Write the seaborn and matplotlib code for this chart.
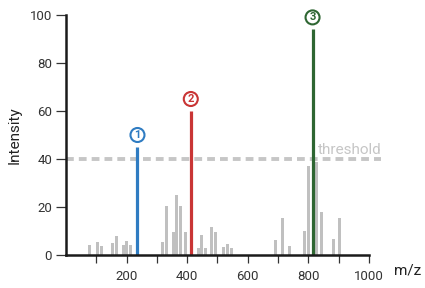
import matplotlib
matplotlib.use("Agg")
import matplotlib.pyplot as plt
import seaborn as sns
import pandas as pd

# ---- data ----
noise_mz = [79, 103, 118, 153, 166, 189, 200, 212, 319, 333, 354, 366, 379, 393,
            437, 449, 461, 480, 495, 520, 534, 545, 693, 714, 738, 787, 800, 827,
            842, 884, 904]
noise_int = [4, 5.3, 3.6, 5, 8, 4, 6, 4.3, 5.5, 20.6, 9.7, 25, 20.3, 9.7,
             2.9, 8.5, 3, 11.8, 9.4, 3.2, 4.6, 3, 6.4, 15.4, 3.6, 9.8, 37.2, 38.9,
             17.8, 6.5, 15.4]
peak_mz = [236, 412, 814]
peak_int = [45, 60, 94]
peak_labels = ["1", "2", "3"]
peak_colors = ["#2f7cc2", "#c93535", "#2e6632"]
threshold = 40
xticks_major = [200, 400, 600, 800, 1000]
xticks_minor = [100, 300, 500, 700, 900]
yticks = [0, 20, 40, 60, 80, 100]

sns.set_style("white")
plt.rcParams["font.family"] = ["Roboto", "DejaVu Sans"]

fig = plt.figure(figsize=(4.25, 2.88), dpi=100)
ax = fig.add_axes([66 / 425, 1 - 255 / 288, (381 - 66) / 425, 240 / 288])

df = pd.DataFrame({"mz": noise_mz, "intensity": noise_int})
sns.barplot(data=df, x="mz", y="intensity", native_scale=True, width=0.9,
            color="#c0c0c0", saturation=1, ax=ax, zorder=2, linewidth=0)

ax.axhline(threshold, xmin=0, xmax=1, color="#c6c6c6", lw=2.8,
           dashes=(2.0, 1.3), zorder=3)
ax.text(832, threshold + 0.8, "threshold", color="#c6c6c6", fontsize=11,
        ha="left", va="bottom", clip_on=False)

for mz, h, lab, c in zip(peak_mz, peak_int, peak_labels, peak_colors):
    ax.vlines(mz, 0, h, color=c, lw=2.3, zorder=4)
    ax.text(mz, h + 5, lab, color=c, fontsize=8, fontweight="bold",
            ha="center", va="center", zorder=5, clip_on=False,
            bbox=dict(boxstyle="circle,pad=0.18", fc="white", ec=c, lw=1.5))

ax.set_xlim(0, 1040)
ax.set_ylim(0, 100)
ax.spines["top"].set_visible(False)
ax.spines["right"].set_visible(False)
for s in ["left", "bottom"]:
    ax.spines[s].set_linewidth(1.8)
    ax.spines[s].set_color("#1a1a1a")
    ax.spines[s].set_zorder(6)
ax.spines["bottom"].set_bounds(0, 1000)
ax.spines["left"].set_bounds(0, 100)

ax.set_xticks(xticks_major)
ax.set_xticks(xticks_minor, minor=True)
ax.set_yticks(yticks)
ax.tick_params(axis="both", which="both", direction="out", color="#333333",
               width=0.9, labelsize=9.5, labelcolor="#333333")
ax.tick_params(axis="x", which="both", length=6, bottom=True, pad=5)
ax.tick_params(axis="y", length=7, left=True, pad=3)
ax.set_xlabel("")
ax.set_ylabel("Intensity", fontsize=11, color="#222222", labelpad=6)
ax.text(1083, -6.5, "m/z", fontsize=11, color="#222222", ha="left",
        va="center", clip_on=False)

fig.savefig("out.png", dpi=100)
